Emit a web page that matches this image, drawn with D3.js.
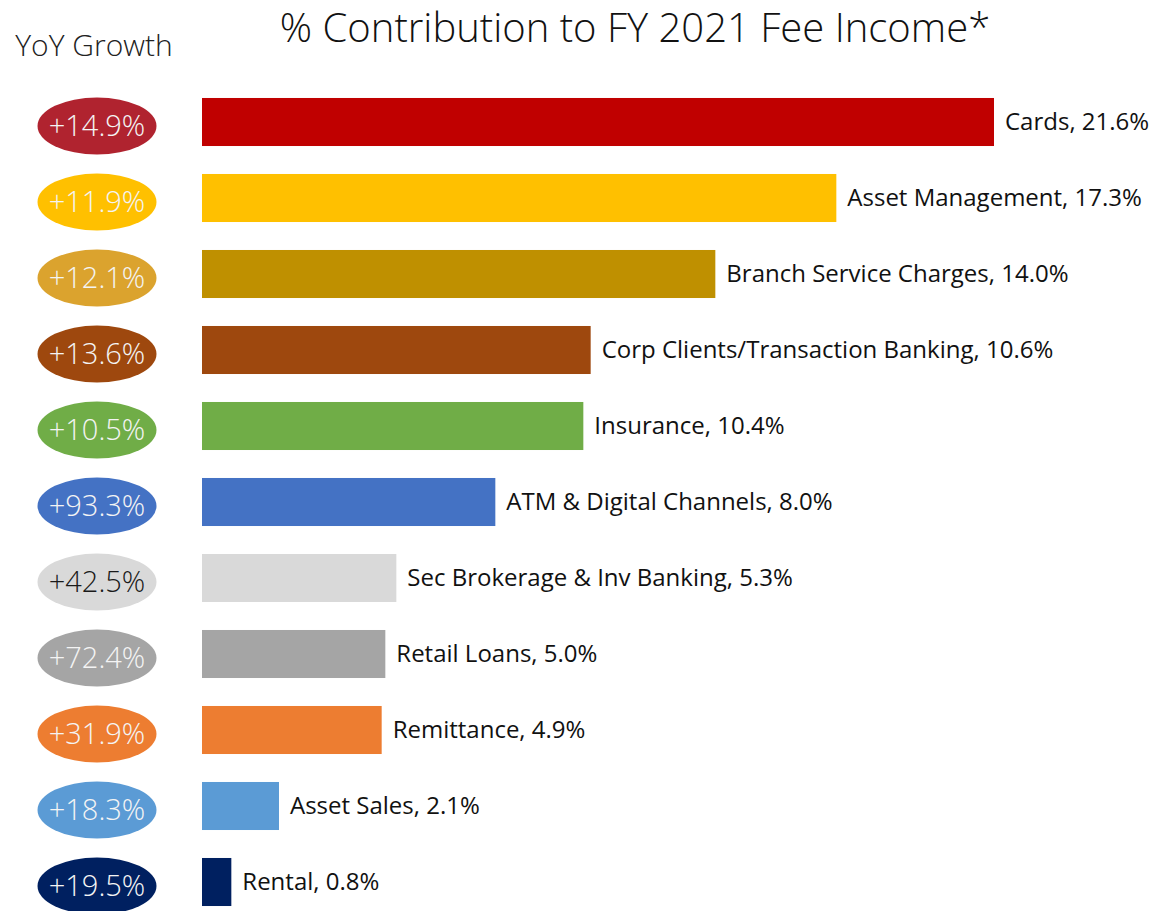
<!DOCTYPE html>
<html lang="en">
<head>
  <meta charset="UTF-8">
  <title>% Contribution to FY 2021 Fee Income</title>
  <script src="https://d3js.org/d3.v7.min.js"></script>
  <style>
    body { margin: 0; background: #fff; }
    text { font-family: "Segoe UI", "Open Sans", sans-serif; }
  </style>
</head>
<body>
  <div id="chart"></div>
  <script>
    // data
    const categories = ["Cards", "Asset Management", "Branch Service Charges", "Corp Clients/Transaction Banking",
      "Insurance", "ATM & Digital Channels", "Sec Brokerage & Inv Banking", "Retail Loans",
      "Remittance", "Asset Sales", "Rental"];
    const share = [21.6, 17.3, 14.0, 10.6, 10.4, 8.0, 5.3, 5.0, 4.9, 2.1, 0.8];
    const growth = [14.9, 11.9, 12.1, 13.6, 10.5, 93.3, 42.5, 72.4, 31.9, 18.3, 19.5];
    const barColors = ["#C00000", "#FFC000", "#BF9000", "#9E480E", "#70AD47", "#4472C4",
      "#D9D9D9", "#A5A5A5", "#ED7D31", "#5B9BD5", "#002060"];
    const badgeColors = ["#B0232F", "#FFC000", "#DBA32E", "#9E480E", "#70AD47", "#4472C4",
      "#D9D9D9", "#A5A5A5", "#ED7D31", "#5B9BD5", "#002060"];

    const width = 1151, height = 911;
    const svg = d3.select("#chart").append("svg")
      .attr("width", width)
      .attr("height", height);

    const x = d3.scaleLinear().domain([0, 21.6]).range([202, 994]);
    const y = d3.scaleBand().domain(categories).range([84, 920])
      .paddingInner(0.368).paddingOuter(0.184);

    svg.append("text")
      .attr("x", 635).attr("y", 42)
      .attr("text-anchor", "middle")
      .attr("font-size", 40).attr("font-weight", 300)
      .attr("fill", "#111")
      .text("% Contribution to FY 2021 Fee Income*");

    svg.append("text")
      .attr("x", 94).attr("y", 56)
      .attr("text-anchor", "middle")
      .attr("font-size", 30).attr("font-weight", 300)
      .attr("fill", "#222")
      .text("YoY Growth");

    const rows = svg.append("g").selectAll("g")
      .data(categories)
      .join("g");

    rows.append("rect")
      .attr("x", x(0))
      .attr("y", d => y(d))
      .attr("width", (d, i) => x(share[i]) - x(0))
      .attr("height", y.bandwidth())
      .attr("fill", (d, i) => barColors[i]);

    rows.append("text")
      .attr("x", (d, i) => x(share[i]) + 11)
      .attr("y", d => y(d) + y.bandwidth() / 2)
      .attr("dy", "0.35em")
      .attr("font-size", 24)
      .attr("fill", "#111")
      .text((d, i) => `${d}, ${share[i].toFixed(1)}%`);

    const cy = d => y(d) + y.bandwidth() / 2 + 4;

    rows.append("ellipse")
      .attr("cx", 97)
      .attr("cy", cy)
      .attr("rx", 59.5)
      .attr("ry", 28.5)
      .attr("fill", (d, i) => badgeColors[i]);

    rows.append("text")
      .attr("x", 97)
      .attr("y", cy)
      .attr("dy", "0.35em")
      .attr("text-anchor", "middle")
      .attr("font-size", 29).attr("font-weight", 300)
      .attr("fill", (d, i) => i === 6 ? "#1a1a1a" : "#f4f4f4")
      .text((d, i) => `+${growth[i].toFixed(1)}%`);
  </script>
</body>
</html>
